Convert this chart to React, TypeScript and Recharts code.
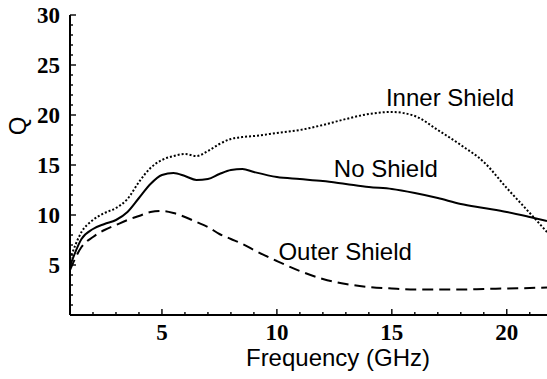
import React from 'react';
import { LineChart, Line, XAxis, YAxis, ReferenceDot } from 'recharts';

const freq = [1, 1.5, 2, 2.5, 3, 3.5, 4, 4.5, 5, 5.5, 6, 6.5, 7, 7.5, 8, 8.5, 9, 10, 11, 12, 13, 14, 15, 16, 17, 18, 19, 20, 21, 21.75];
const noShield = [4.9, 7.6, 8.6, 9.1, 9.5, 10.3, 11.7, 13.1, 14.0, 14.2, 13.9, 13.5, 13.6, 14.1, 14.5, 14.6, 14.3, 13.8, 13.6, 13.4, 13.1, 12.8, 12.6, 12.2, 11.7, 11.1, 10.7, 10.3, 9.8, 9.4];
const innerShield = [5.6, 8.3, 9.5, 10.2, 10.7, 11.6, 13.3, 14.7, 15.5, 15.9, 16.1, 15.9, 16.4, 17.1, 17.6, 17.8, 17.9, 18.2, 18.5, 19.0, 19.6, 20.1, 20.3, 19.9, 18.5, 17.0, 15.3, 12.7, 10.2, 8.3];
const outerShield = [4.5, 6.8, 7.8, 8.5, 9.0, 9.5, 9.9, 10.3, 10.4, 10.2, 9.8, 9.3, 8.8, 8.1, 7.6, 7.1, 6.5, 5.4, 4.4, 3.6, 3.1, 2.8, 2.65, 2.55, 2.55, 2.55, 2.6, 2.65, 2.7, 2.75];

const xTicks = [2, 3, 4, 5, 6, 7, 8, 9, 10, 11, 12, 13, 14, 15, 16, 17, 18, 19, 20, 21];
const yTicks = [1, 2, 3, 4, 5, 6, 7, 8, 9, 10, 11, 12, 13, 14, 15, 16, 17, 18, 19, 20, 21, 22, 23, 24, 25, 26, 27, 28, 29, 30];
const yLabels = [5, 10, 15, 20, 25, 30];
const xMin = 1;

const curveLabels = [
  { name: 'Inner Shield', f: 17.53, q: 21.8 },
  { name: 'No Shield', f: 14.74, q: 14.7 },
  { name: 'Outer Shield', f: 12.97, q: 6.4 },
];

const data = freq.map((f, i) => ({ f, no: noShield[i], inner: innerShield[i], outer: outerShield[i] }));

const SERIF = 'Liberation Serif';
const SANS = 'Liberation Sans';

const renderBottomTick = (props: any) => {
  const { x, payload } = props;
  const v = payload.value;
  const major = v % 5 === 0;
  const axisY = 315;
  return (
    <g key={`b-${v}`}>
      <line x1={x} x2={x} y1={axisY} y2={axisY - (major ? 6 : 3)} stroke="#000" strokeWidth={1.4} />
      {major && (
        <text x={x} y={axisY + 25} textAnchor="middle" fontFamily={SERIF} fontWeight={700} fontSize={23} fill="#000">
          {String(v)}
        </text>
      )}
    </g>
  );
};

const renderTopTick = (props: any) => {
  const { x, payload } = props;
  const v = payload.value;
  const major = v % 5 === 0;
  const axisY = 15;
  return <line key={`t-${v}`} x1={x} x2={x} y1={axisY} y2={axisY + (major ? 6 : 3)} stroke="#000" strokeWidth={1.4} />;
};

const renderLeftTick = (props: any) => {
  const { y, payload } = props;
  const v = payload.value;
  const major = v % 5 === 0;
  const axisX = 70;
  return <line key={`l-${v}`} x1={axisX} x2={axisX + (major ? 6 : 3)} y1={y} y2={y} stroke="#000" strokeWidth={1.4} />;
};

const YLabelShape = (v: number) => (props: any) => {
  const { cx, cy } = props;
  const s = String(v);
  const halfW = s.length * 11.5 * 0.5;
  return (
    <text x={cx - 10 - halfW} y={cy + 8} textAnchor="middle" fontFamily={SERIF} fontWeight={700} fontSize={23} fill="#000">
      {s}
    </text>
  );
};

const TextShape = (name: string) => (props: any) => {
  const { cx, cy } = props;
  return (
    <text x={cx} y={cy + 8.5} textAnchor="middle" fontFamily={SANS} fontSize={24} fill="#000">
      {name}
    </text>
  );
};

export default function App() {
  return (
    <div style={{ position: 'absolute', left: 0, top: 0, width: 547, height: 379, background: '#fff' }}>
      <LineChart width={547} height={379} data={data} margin={{ top: 15, right: 0, bottom: 0, left: 0 }}>
        <XAxis
          dataKey="f"
          type="number"
          domain={[1, 21.75]}
          ticks={xTicks}
          interval={0}
          height={64}
          tickSize={0}
          tickMargin={0}
          tickLine={false}
          axisLine={{ stroke: '#000', strokeWidth: 2 }}
          tick={renderBottomTick}
          allowDataOverflow
          label={() => (
            <text x={338} y={366} textAnchor="middle" fontFamily={SANS} fontSize={24} fill="#000">
              Frequency (GHz)
            </text>
          )}
        />
        <XAxis
          xAxisId="top"
          orientation="top"
          dataKey="f"
          type="number"
          domain={[1, 21.75]}
          ticks={xTicks}
          interval={0}
          height={0}
          tickSize={0}
          tickMargin={0}
          tickLine={false}
          axisLine={{ stroke: '#000', strokeWidth: 2 }}
          tick={renderTopTick}
          allowDataOverflow
        />
        <YAxis
          type="number"
          domain={[0, 30]}
          ticks={yTicks}
          interval={0}
          width={70}
          tickSize={0}
          tickMargin={0}
          tickLine={false}
          axisLine={{ stroke: '#000', strokeWidth: 2 }}
          tick={renderLeftTick}
          allowDataOverflow
          label={() => (
            <text
              x={17.5}
              y={126}
              textAnchor="middle"
              dominantBaseline="central"
              transform="rotate(-90 17.5 126)"
              fontFamily={SANS}
              fontSize={24}
              fill="#000"
            >
              Q
            </text>
          )}
        />
        <Line type="monotone" dataKey="inner" stroke="#000" strokeWidth={2} strokeDasharray="2 2" dot={false} isAnimationActive={false} />
        <Line type="monotone" dataKey="no" stroke="#000" strokeWidth={2} dot={false} isAnimationActive={false} />
        <Line type="monotone" dataKey="outer" stroke="#000" strokeWidth={2} strokeDasharray="11 6" dot={false} isAnimationActive={false} />
        {yLabels.map((v) => (
          <ReferenceDot key={`yl-${v}`} x={xMin} y={v} r={0} shape={YLabelShape(v)} ifOverflow="visible" />
        ))}
        {curveLabels.map((c) => (
          <ReferenceDot key={c.name} x={c.f} y={c.q} r={0} shape={TextShape(c.name)} ifOverflow="visible" />
        ))}
      </LineChart>
    </div>
  );
}
